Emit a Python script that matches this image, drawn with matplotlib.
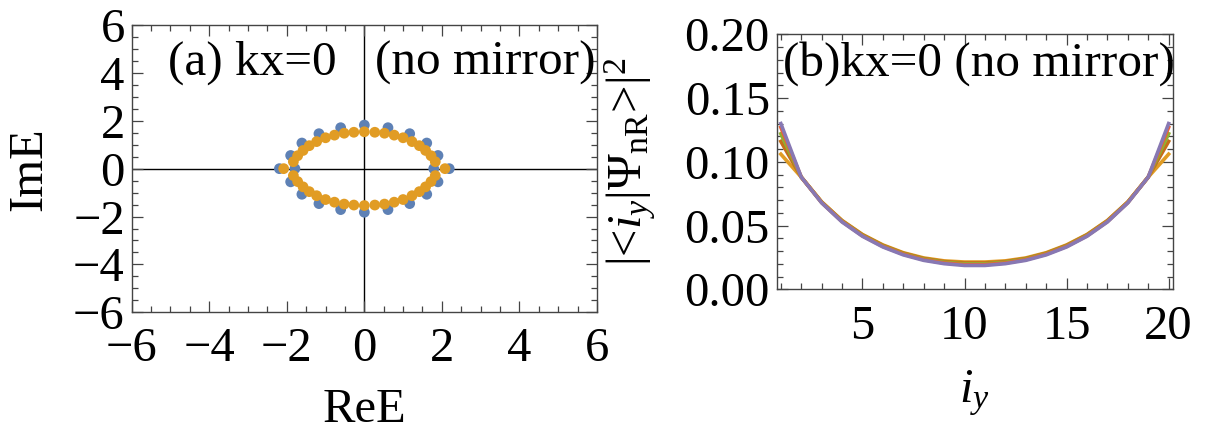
import matplotlib
matplotlib.use("Agg")
import matplotlib.pyplot as plt
from matplotlib.ticker import MultipleLocator, FixedLocator

plt.rcParams['font.family'] = ['Liberation Serif', 'DejaVu Serif']
plt.rcParams['mathtext.fontset'] = 'custom'
plt.rcParams['mathtext.rm'] = 'Liberation Serif'
plt.rcParams['mathtext.it'] = 'Liberation Serif:italic'
plt.rcParams['mathtext.bf'] = 'Liberation Serif:bold'

# ---------------- data: panel (a) ----------------
blue_re = [-2.19, -1.79, 1.79, 2.19,
           -1.90, -1.61, -1.17, -0.61, 0.00, 0.61, 1.17, 1.61, 1.90,
           -1.90, -1.61, -1.17, -0.61, 0.00, 0.61, 1.17, 1.61, 1.90]
blue_im = [0.00, 0.00, 0.00, 0.00,
           0.55, 1.07, 1.46, 1.71, 1.82, 1.71, 1.46, 1.07, 0.55,
           -0.55, -1.07, -1.46, -1.71, -1.82, -1.71, -1.46, -1.07, -0.55]

orange_re = [-2.08, 2.08,
             -1.83, -1.72, -1.58, -1.42, -1.23, -1.00, -0.77, -0.52, -0.27, 0.00,
             0.27, 0.52, 0.77, 1.00, 1.23, 1.42, 1.58, 1.72, 1.83,
             -1.83, -1.72, -1.58, -1.42, -1.23, -1.00, -0.77, -0.52, -0.27, 0.00,
             0.27, 0.52, 0.77, 1.00, 1.23, 1.42, 1.58, 1.72, 1.83]
orange_im = [0.00, 0.00,
             0.29, 0.54, 0.76, 0.96, 1.13, 1.29, 1.40, 1.48, 1.52, 1.54,
             1.52, 1.48, 1.40, 1.29, 1.13, 0.96, 0.76, 0.54, 0.29,
             -0.29, -0.54, -0.76, -0.96, -1.13, -1.29, -1.40, -1.48, -1.52, -1.54,
             -1.52, -1.48, -1.40, -1.29, -1.13, -0.96, -0.76, -0.54, -0.29]

# ---------------- data: panel (b) ----------------
iy = list(range(1, 21))
prob_orange = [0.106, 0.088, 0.0686, 0.0540, 0.0430, 0.0348, 0.0287, 0.0246, 0.0223, 0.0214,
               0.0214, 0.0223, 0.0246, 0.0287, 0.0348, 0.0430, 0.0540, 0.0686, 0.088, 0.106]
prob_brown = [0.116, 0.088, 0.0684, 0.0537, 0.0427, 0.0344, 0.0283, 0.0241, 0.0217, 0.0206,
              0.0206, 0.0217, 0.0241, 0.0283, 0.0344, 0.0427, 0.0537, 0.0684, 0.088, 0.116]
prob_green = [0.122, 0.088, 0.0682, 0.0534, 0.0423, 0.0340, 0.0279, 0.0237, 0.0212, 0.0200,
              0.0200, 0.0212, 0.0237, 0.0279, 0.0340, 0.0423, 0.0534, 0.0682, 0.088, 0.122]
prob_red = [0.127, 0.088, 0.0680, 0.0531, 0.0419, 0.0336, 0.0275, 0.0232, 0.0206, 0.0193,
            0.0193, 0.0206, 0.0232, 0.0275, 0.0336, 0.0419, 0.0531, 0.0680, 0.088, 0.127]
prob_purple = [0.130, 0.088, 0.0678, 0.0528, 0.0416, 0.0332, 0.0270, 0.0227, 0.0201, 0.0187,
               0.0187, 0.0201, 0.0227, 0.0270, 0.0332, 0.0416, 0.0528, 0.0678, 0.088, 0.130]

xticks_a = [-6, -4, -2, 0, 2, 4, 6]
yticks_a = [-6, -4, -2, 0, 2, 4, 6]
xticks_b = [5, 10, 15, 20]
yticks_b = [0.00, 0.05, 0.10, 0.15, 0.20]

C_BLUE = '#5E81B5'
C_ORANGE = '#E19C24'
C_GREEN = '#8FB032'
C_RED = '#EB6235'
C_PURPLE = '#8778B3'
C_BROWN = '#C56E1A'

FS = 35
FS_T = 35.5
fig = plt.figure(figsize=(12.24, 4.34), dpi=100)

def style_frame(ax, xpad):
    for s in ax.spines.values():
        s.set_linewidth(1.0)
        s.set_color('#444444')
    ax.tick_params(which='both', direction='in', top=True, right=True,
                   color='#444444', labelsize=FS, width=0.9)
    ax.tick_params(which='major', length=8)
    ax.tick_params(which='minor', length=4)
    ax.tick_params(axis='y', which='major', pad=5)
    ax.tick_params(axis='x', which='major', pad=xpad)

# ---- panel (a) ----
axa = fig.add_axes([0.1076, 0.2804, 0.3801, 0.6620])
axa.axhline(0, color='black', lw=1.0, zorder=1)
axa.axvline(0, color='black', lw=1.0, zorder=1)
axa.scatter(blue_re, blue_im, s=60, color=C_BLUE, edgecolors='none', zorder=2)
axa.scatter(orange_re, orange_im, s=60, color=C_ORANGE, edgecolors='none', zorder=3)
axa.set_xlim(-6, 6)
axa.set_ylim(-6, 6)
axa.xaxis.set_major_locator(FixedLocator(xticks_a))
axa.yaxis.set_major_locator(FixedLocator(yticks_a))
axa.xaxis.set_minor_locator(MultipleLocator(0.5))
axa.yaxis.set_minor_locator(MultipleLocator(0.5))
axa.set_xticklabels([('\u2212%d' % -v) if v < 0 else '%d' % v for v in xticks_a])
axa.set_yticklabels([('\u2212%d' % -v) if v < 0 else '%d' % v for v in yticks_a])
style_frame(axa, 10.5)
axa.set_xlabel('ReE', fontsize=FS, labelpad=12)
axa.set_ylabel('ImE', fontsize=FS, labelpad=16)
axa.text(0.078, 0.868, '(a) kx=0', transform=axa.transAxes,
         fontsize=FS_T, ha='left', va='center')
axa.text(0.997, 0.868, '(no mirror)', transform=axa.transAxes,
         fontsize=FS_T, ha='right', va='center')

# ---- panel (b) ----
axb = fig.add_axes([0.6346, 0.3334, 0.3235, 0.5876])
for vals, c in [(prob_orange, C_ORANGE), (prob_brown, C_BROWN), (prob_green, C_GREEN),
                (prob_red, C_RED), (prob_purple, C_PURPLE)]:
    axb.plot(iy, vals, color=c, lw=2.6, solid_joinstyle='round')
axb.set_xlim(0.8, 20.2)
axb.set_ylim(0, 0.2)
axb.xaxis.set_major_locator(FixedLocator(xticks_b))
axb.yaxis.set_major_locator(FixedLocator(yticks_b))
axb.xaxis.set_minor_locator(MultipleLocator(1))
axb.yaxis.set_minor_locator(MultipleLocator(0.01))
axb.set_yticklabels(['%.2f' % v for v in yticks_b])
style_frame(axb, 11)
axb.set_xlabel(r'$i_y$', fontsize=FS, labelpad=14)
axb.set_ylabel(r'$|$<$i_y|\Psi_{\mathrm{nR}}$>$|^2$', fontsize=FS, labelpad=19)
axb.text(0.016, 0.887, '(b)kx=0 (no mirror)', transform=axb.transAxes,
         fontsize=FS_T, ha='left', va='center')

fig.savefig('out.png', dpi=100)
